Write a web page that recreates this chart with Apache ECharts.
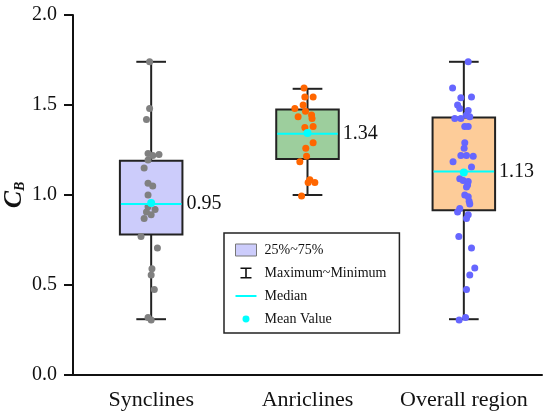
<!DOCTYPE html>
<html>
<head>
<meta charset="utf-8">
<script src="https://cdn.jsdelivr.net/npm/echarts@6/dist/echarts.min.js"></script>
<style>
  html, body { margin: 0; padding: 0; background: #fff; }
  #boxchart { width: 550px; height: 419px; }
</style>
</head>
<body>
<div id="boxchart"></div>
<script>
// groups on the x axis
var categories = ['Synclines', 'Anriclines', 'Overall region'];

// box statistics: [min, q1, median, q3, max]
var boxStats = [
    [0.31, 0.78, 0.95, 1.19, 1.74],
    [1.00, 1.20, 1.34, 1.475, 1.59],
    [0.31, 0.915, 1.13, 1.43, 1.74]
];
var meanValues = [0.955, 1.345, 1.125];

// sample values and their horizontal jitter (fraction of a category)
var synValues = [1.74, 1.48, 1.42, 1.23, 1.22, 1.225, 1.195, 1.15, 1.065, 1.05, 1.0, 0.935,
    0.92, 0.905, 0.89, 0.87, 0.77, 0.705, 0.59, 0.555, 0.475, 0.32, 0.305];
var synJitter = [-0.01, -0.01, -0.03, -0.02, 0.01, 0.05, -0.02, -0.045, -0.02, 0.01, -0.02, -0.02,
    0.025, -0.03, 0, -0.045, -0.065, 0.04, 0.005, 0, 0.02, -0.02, 0];

var antValues = [1.595, 1.545, 1.545, 1.48, 1.50, 1.465, 1.435, 1.445, 1.425, 1.375, 1.38,
    1.29, 1.26, 1.215, 1.185, 1.085, 1.07, 1.07, 0.995];
var antJitter = [-0.022, -0.017, 0.036, -0.081, -0.028, -0.013, -0.06, 0.026, 0.029, -0.017, 0.036,
    0.036, -0.011, -0.006, -0.049, 0.015, 0.047, 0.004, -0.038];

var allValues = [1.74, 1.595, 1.54, 1.545, 1.50, 1.48, 1.47, 1.445, 1.425, 1.425, 1.435, 1.38, 1.38,
    1.29, 1.26, 1.22, 1.22, 1.215, 1.185, 1.155, 1.09, 1.08, 1.075, 1.055, 1.045, 1.0, 0.99, 0.965,
    0.95, 0.925, 0.905, 0.89, 0.87, 0.77, 0.705, 0.595, 0.555, 0.475, 0.32, 0.305];
var allJitter = [0.028, -0.072, -0.019, 0.049, -0.04, -0.026, 0.028, 0.017, -0.058, -0.019, 0.038, 0.006, 0.028,
    0.006, 0.002, -0.019, 0.017, 0.06, -0.069, 0.049, -0.026, -0.004, 0.028, 0.024, 0.017, 0.006, 0.028, 0.034,
    0.038, -0.026, -0.04, 0.028, 0.017, -0.032, 0.049, 0.07, 0.038, 0.017, 0.011, -0.03];

var yTicks = [0, 0.5, 1.0, 1.5, 2.0];

(function(){

    var chart = echarts.init(document.getElementById('boxchart'));
    var font = 'Liberation Serif';
    var boxColors = ['#ccccfb', '#9dce9d', '#fdcc99'];
    var dotColors = ['#808080', '#ff6600', '#6666ff'];
    var halfBox = 0.2, halfCap = 0.095;

    function points(values, jitter, idx) {
        return values.map(function (v, k) { return [idx + jitter[k], v]; });
    }
    var statRows = boxStats.map(function (s, i) { return [i].concat(s); });

    // 四分位箱体
    function renderBox(params, api) {
        var i = api.value(0);
        var a = api.coord([i - halfBox, api.value(2)]);
        var b = api.coord([i + halfBox, api.value(4)]);
        return {
            type: 'rect',
            shape: { x: a[0], y: b[1], width: b[0] - a[0], height: a[1] - b[1] },
            style: { fill: boxColors[i], stroke: '#222', lineWidth: 2 }
        };
    }
    // 最大最小值须线
    function renderWhisker(params, api) {
        var i = api.value(0);
        var top = api.coord([i, api.value(5)]);
        var q3 = api.coord([i, api.value(4)]);
        var q1 = api.coord([i, api.value(2)]);
        var bot = api.coord([i, api.value(1)]);
        var w = api.size([halfCap, 0])[0];
        var st = { stroke: '#222', lineWidth: 2 };
        return {
            type: 'group',
            children: [
                { type: 'line', shape: { x1: top[0], y1: top[1], x2: q3[0], y2: q3[1] }, style: st },
                { type: 'line', shape: { x1: q1[0], y1: q1[1], x2: bot[0], y2: bot[1] }, style: st },
                { type: 'line', shape: { x1: top[0] - w, y1: top[1], x2: top[0] + w, y2: top[1] }, style: st },
                { type: 'line', shape: { x1: bot[0] - w, y1: bot[1], x2: bot[0] + w, y2: bot[1] }, style: st }
            ]
        };
    }
    // 中位线 + 数值
    function renderMedian(params, api) {
        var i = api.value(0);
        var m = api.value(3);
        var a = api.coord([i - halfBox, m]);
        var b = api.coord([i + halfBox, m]);
        return {
            type: 'group',
            children: [
                { type: 'line', shape: { x1: a[0] + 1, y1: a[1], x2: b[0] - 1, y2: b[1] },
                  style: { stroke: '#00ffff', lineWidth: 2 } },
                { type: 'text', x: b[0] + 4, y: b[1],
                  style: { text: m.toFixed(2), fill: '#111', font: '20px "Liberation Serif"',
                           textVerticalAlign: 'middle', textAlign: 'left' } }
            ]
        };
    }

    function dotSeries(name, data, color) {
        return {
            name: name,
            type: 'scatter',
            xAxisIndex: 1,
            data: data,
            symbolSize: 7,
            itemStyle: { color: color, opacity: 1 },
            z: 4
        };
    }

    var corner = 'M0,0h0.01v0.01h-0.01z M21,12h0.01v0.01h-0.01z';

    option = {
        animation: false,
        grid: { left: 73, right: 8, top: 15, bottom: 44, containLabel: false, outerBoundsMode: 'none' },
        legend: {
            orient: 'vertical',
            left: 224,
            top: 233,
            padding: [10, 13, 7, 11],
            itemWidth: 21,
            itemHeight: 12,
            itemGap: 9,
            borderColor: '#222',
            borderWidth: 1.5,
            borderRadius: 0,
            selectedMode: false,
            textStyle: { fontFamily: font, fontSize: 14, color: '#111', padding: [0, 0, 0, 3] },
            data: [
                { name: '25%~75%', icon: 'rect',
                  itemStyle: { color: '#ccccfb', borderColor: '#777', borderWidth: 1 } },
                { name: 'Maximum~Minimum',
                  icon: 'path://M5,0.5h11v1.6h-11z M9.7,0.5h1.6v11h-1.6z M5,9.9h11v1.6h-11z ' + corner,
                  itemStyle: { color: '#111', borderWidth: 0 } },
                { name: 'Median', icon: 'path://M0,5h21v2h-21z ' + corner,
                  itemStyle: { color: '#00ffff', borderWidth: 0 } },
                { name: 'Mean Value', icon: 'path://M10.5,2.5a3.5,3.5 0 1,0 0.001,0z ' + corner,
                  itemStyle: { color: '#00ffff', borderWidth: 0 } }
            ]
        },
        xAxis: [
            {
                type: 'category',
                data: categories,
                boundaryGap: true,
                axisLine: { onZero: false, lineStyle: { color: '#111', width: 2 } },
                axisTick: { alignWithLabel: true, length: 9, lineStyle: { width: 2, color: '#111' } },
                axisLabel: { interval: 0, fontFamily: font, fontSize: 22, color: '#111', margin: 14 },
                splitLine: { show: false }
            },
            {
                type: 'value',
                min: -0.5,
                max: 2.5,
                show: false,
                splitLine: { show: false }
            }
        ],
        yAxis: {
            type: 'value',
            min: yTicks[0],
            max: yTicks[yTicks.length - 1],
            interval: 0.5,
            name: '{c|C}{s|B}',
            nameLocation: 'middle',
            nameRotate: 90,
            nameGap: 46,
            nameMoveOverlap: false,
            nameTextStyle: {
                rich: {
                    c: { fontFamily: font, fontSize: 26, fontWeight: 'bold', fontStyle: 'italic', color: '#111' },
                    s: { fontFamily: font, fontSize: 14, fontWeight: 'bold', fontStyle: 'italic', color: '#111',
                         verticalAlign: 'bottom', padding: [8, 0, 0, 0] }
                }
            },
            axisLine: { show: true, onZero: false, lineStyle: { color: '#111', width: 2 } },
            axisTick: { show: true, length: 9, lineStyle: { width: 2, color: '#111' } },
            axisLabel: {
                fontFamily: font, fontSize: 20, color: '#111', margin: 16,
                formatter: function (v) { return v.toFixed(1); }
            },
            splitLine: { show: false }
        },
        series: [
            { name: '25%~75%', type: 'custom', xAxisIndex: 1, renderItem: renderBox,
              data: statRows, encode: { x: 0, y: [1, 5] }, z: 1 },
            { name: 'Maximum~Minimum', type: 'custom', xAxisIndex: 1, renderItem: renderWhisker,
              data: statRows, encode: { x: 0, y: [1, 5] }, z: 2 },
            dotSeries('Synclines', points(synValues, synJitter, 0), dotColors[0]),
            dotSeries('Anriclines', points(antValues, antJitter, 1), dotColors[1]),
            dotSeries('Overall region', points(allValues, allJitter, 2), dotColors[2]),
            { name: 'Median', type: 'custom', xAxisIndex: 1, renderItem: renderMedian,
              data: statRows, encode: { x: 0, y: [1, 5] }, z: 5 },
            { name: 'Mean Value', type: 'scatter', xAxisIndex: 1, symbolSize: 8,
              data: meanValues.map(function (v, i) { return [i, v]; }),
              itemStyle: { color: '#00ffff', opacity: 1 }, z: 6 }
        ]
    };

    chart.setOption(option);
})();
</script>
</body>
</html>
